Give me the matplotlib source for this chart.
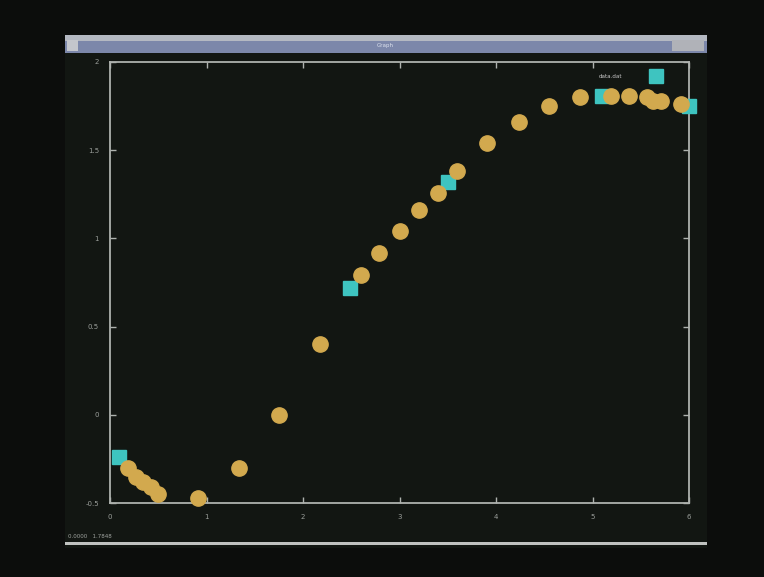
import matplotlib.pyplot as plt
from matplotlib.patches import Rectangle

# ---- data ----
circle_x = [0.19, 0.27, 0.34, 0.42, 0.50, 0.91, 1.34, 1.75, 2.18, 2.60,
            2.79, 3.00, 3.20, 3.40, 3.60, 3.91, 4.24, 4.55, 4.87, 5.19,
            5.38, 5.56, 5.63, 5.71, 5.92]
circle_y = [-0.30, -0.35, -0.38, -0.41, -0.45, -0.47, -0.30, 0.00, 0.40, 0.79,
            0.92, 1.04, 1.16, 1.26, 1.38, 1.54, 1.66, 1.75, 1.80, 1.81,
            1.81, 1.80, 1.78, 1.78, 1.76]

square_x = [0.09, 2.49, 3.50, 5.10, 5.66, 6.00]
square_y = [-0.24, 0.72, 1.32, 1.81, 1.92, 1.75]

x_ticks = [0, 1, 2, 3, 4, 5, 6]
y_ticks = [-0.5, 0, 0.5, 1, 1.5, 2]
y_tick_labels = ["-0.5", "0", "0.5", "1", "1.5", "2"]

W, H = 764, 577
fig = plt.figure(figsize=(W / 100, H / 100), dpi=100)
fig.patch.set_facecolor("#0c0d0c")


def px_rect(x0, y0, x1, y1, **kw):
    # rectangle in screenshot pixel coords (origin top-left)
    fig.add_artist(Rectangle((x0 / W, 1 - y1 / H), (x1 - x0) / W, (y1 - y0) / H,
                             transform=fig.transFigure, **kw))


# window body and title bar
px_rect(65, 35, 707, 548, facecolor="#121612", edgecolor="none", zorder=0)
px_rect(65, 35, 707, 41, facecolor="#b4b8c2", edgecolor="none", zorder=1)
px_rect(65, 41, 707, 53, facecolor="#7c87aa", edgecolor="none", zorder=1)
px_rect(67, 40, 78, 51, facecolor="#c4c6cc", edgecolor="none", zorder=2)
px_rect(672, 40, 704, 51, facecolor="#b0b2b8", edgecolor="none", zorder=2)
fig.text(385 / W, 1 - 46 / H, "Graph", color="#dde2ee", fontsize=4,
         ha="center", va="center")

# status bar line + coordinates
px_rect(65, 542, 707, 545, facecolor="#c0c2c0", edgecolor="none", zorder=1)
fig.text(68 / W, 1 - 536 / H, "0.0000   1.7848", color="#a0a4a0", fontsize=4,
         ha="left", va="center")

ax = fig.add_axes([110 / W, 1 - 503 / H, (689 - 110) / W, (503 - 62) / H])
ax.set_facecolor("#121612")

ax.plot(square_x, square_y, linestyle="none", marker="s", markersize=10,
        color="#3ec4c0", clip_on=False, zorder=3)
ax.plot(circle_x, circle_y, linestyle="none", marker="o", markersize=11,
        color="#d2a94e", clip_on=False, zorder=4)

ax.text(5.19, 1.92, "data.dat", color="#c8c8c8", fontsize=4,
        ha="center", va="center")

ax.set_xlim(0, 6)
ax.set_ylim(-0.5, 2)
ax.set_xticks(x_ticks)
ax.set_yticks(y_ticks)
ax.set_yticklabels(y_tick_labels)

for sp in ax.spines.values():
    sp.set_color("#aeb2ae")
    sp.set_linewidth(1.3)

ax.tick_params(direction="in", length=4, width=1, colors="#aeb2ae",
               labelcolor="#9a9e9a", labelsize=5, top=True, right=True,
               pad=8)

fig.savefig("out.png", dpi=100, facecolor=fig.get_facecolor())
